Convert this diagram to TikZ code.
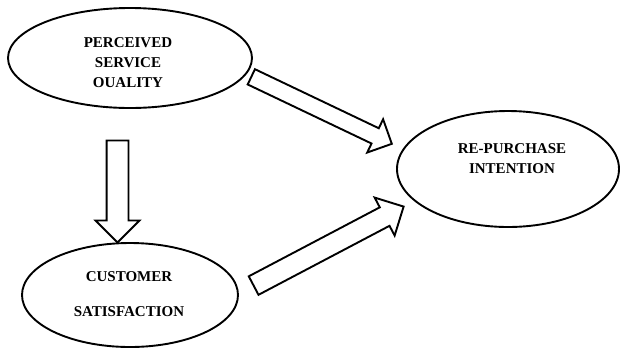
\documentclass[tikz,border=0pt]{standalone}
\usepackage{fontspec}
\setmainfont{Liberation Serif}
\usetikzlibrary{shapes.geometric, shapes.arrows, calc}

\begin{document}
\begin{tikzpicture}[x=1pt, y=-1pt, line width=1.9pt,
    % --- styles ---
    construct/.style={draw, ellipse, inner sep=0pt},
    blockarrow/.style 2 args={draw, fill=white, single arrow,
        single arrow tip angle=90, single arrow head extend=#2,
        inner xsep=0pt, inner ysep=#1, text height=0pt, text depth=0pt,
        minimum width=0pt},
    label_text/.style={font=\fontsize{15}{20}\selectfont\bfseries, align=center}
]
    \useasboundingbox (0,0) rectangle (621,349);

    % =========================================
    % constructs (ellipses)
    % =========================================
    \node[construct, minimum width=244pt, minimum height=100pt] (psq) at (130,58) {};
    \node[construct, minimum width=216pt, minimum height=104pt] (cs)  at (130,295) {};
    \node[construct, minimum width=222pt, minimum height=116pt] (rpi) at (508,169) {};

    % --- texts ---
    \node[label_text] (psq-text) at (128,62.5) {PERCEIVED\\SERVICE\\OUALITY};
    \node[label_text] (cs-text)  at (129,294.5) {CUSTOMER\\[15pt]SATISFACTION};
    \node[label_text] (rpi-text) at (512,159) {RE-PURCHASE\\INTENTION};

    % =========================================
    % block arrows
    % =========================================
    \coordinate (a1tail) at (117.5,135);
    \coordinate (a1tip)  at (117.5,237);
    \coordinate (a2tail) at (247.5,75);
    \coordinate (a2tip)  at (388,142);
    \coordinate (a3tail) at (249,288);
    \coordinate (a3tip)  at (399,209);

    % PSQ -> CS
    \path let \p1=($(a1tip)-(a1tail)$), \n1={atan2(\y1,\x1)}, \n2={veclen(\x1,\y1)} in
        node[blockarrow={10pt}{11pt}, minimum height=\n2, rotate=\n1] (a1) at ($(a1tail)!0.5!(a1tip)$) {};
    % PSQ -> RPI
    \path let \p1=($(a2tip)-(a2tail)$), \n1={atan2(\y1,\x1)}, \n2={veclen(\x1,\y1)} in
        node[blockarrow={7.5pt}{10pt}, minimum height=\n2, rotate=\n1] (a2) at ($(a2tail)!0.5!(a2tip)$) {};
    % CS -> RPI
    \path let \p1=($(a3tip)-(a3tail)$), \n1={atan2(\y1,\x1)}, \n2={veclen(\x1,\y1)} in
        node[blockarrow={9.5pt}{11pt}, minimum height=\n2, rotate=\n1] (a3) at ($(a3tail)!0.5!(a3tip)$) {};

\end{tikzpicture}
\end{document}
